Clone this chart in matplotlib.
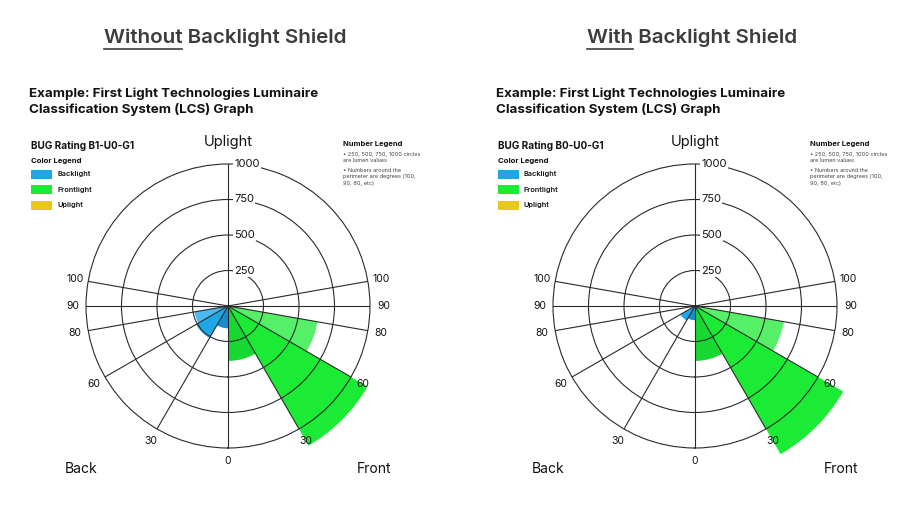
import numpy as np
import matplotlib.pyplot as plt
from matplotlib.patches import Rectangle

plt.rcParams['font.family'] = ['Inter', 'DejaVu Sans']

# BUG zones: degrees from nadir
zone_names = ['L', 'M', 'H']
zone_lo = [0, 30, 60]
zone_hi = [30, 60, 80]

# lumens per zone
without_back = [157, 260, 240]
without_front = [387, 1135, 640]
with_back = [100, 118, 0]
with_front = [387, 1205, 635]

back_colors = ['#1a8bcc', '#1ea7e6', '#4cb9ef']
front_colors = ['#17d731', '#1ceb36', '#56ef68']

rings = [250, 500, 750, 1000]
spokes = [0, 30, 60, 80, 90, 100]
bug_ratings = ['BUG Rating B1-U0-G1', 'BUG Rating B0-U0-G1']
headers = [('Without', ' Backlight Shield'), ('With', ' Backlight Shield')]
legend_names = ['Backlight', 'Frontlight', 'Uplight']
legend_colors = ['#1ea7e6', '#1ceb36', '#e8c81c']

W, H = 917, 531
fig = plt.figure(figsize=(W / 100, H / 100), dpi=100)
line_c = '#2a2a2a'
txt_c = '#111111'


def fx(x):
    return x / W


def fy(y):
    return 1 - y / H


def draw_panel(off, back, front, rating, header):
    cx, cy, R = 228 + off, 306, 142
    ax = fig.add_axes([fx(cx - R), fy(cy + R), 2 * R / W, 2 * R / H], projection='polar')
    ax.set_theta_zero_location('S')
    ax.set_theta_direction(1)

    # bars (back on the left = 360 - angle)
    for i in range(len(zone_names)):
        w = np.radians(zone_hi[i] - zone_lo[i])
        c = np.radians((zone_lo[i] + zone_hi[i]) / 2)
        ax.bar(c, front[i], width=w, color=front_colors[i], linewidth=0, clip_on=False, zorder=1)
        ax.bar(2 * np.pi - c, back[i], width=w, color=back_colors[i], linewidth=0, clip_on=False, zorder=1)

    ax.set_thetamin(0)
    ax.set_thetamax(360)
    ax.set_ylim(0, 1000)

    ticks = sorted(set([np.radians(a) for a in spokes] + [np.radians(360 - a) for a in spokes[1:]] + [np.pi]))
    ax.set_xticks(ticks)
    ax.set_xticklabels([])
    ax.set_yticks(rings[:-1])
    ax.set_yticklabels([])
    ax.tick_params(length=0)
    ax.grid(True, color=line_c, linewidth=0.8)
    ax.spines['polar'].set_color(line_c)
    ax.spines['polar'].set_linewidth(0.8)
    for gl in ax.xaxis.get_gridlines() + ax.yaxis.get_gridlines():
        gl.set_zorder(2)

    # degree labels around the perimeter
    for a in spokes:
        for s in ([1, -1] if a else [1]):
            ax.text(np.radians(s * a) % (2 * np.pi), 1095, str(a), ha='center', va='center',
                    fontsize=7.5, color=txt_c, zorder=5)
    # lumen labels on the vertical line
    for r in rings:
        ax.annotate(str(r), xy=(np.pi, r), xytext=(4.5, 0), textcoords='offset points',
                    ha='left', va='center', fontsize=8, color=txt_c, zorder=5,
                    bbox=dict(fc='white', ec='none', pad=0.8))

    fig.text(fx(cx), fy(142), 'Uplight', ha='center', va='center', fontsize=10.5, color=txt_c)
    fig.text(fx(81 + off), fy(469), 'Back', ha='center', va='center', fontsize=10, color=txt_c)
    fig.text(fx(374 + off), fy(469), 'Front', ha='center', va='center', fontsize=10, color=txt_c)

    fig.text(fx(29 + off), fy(88), 'Example: First Light Technologies Luminaire\nClassification System (LCS) Graph',
             ha='left', va='top', fontsize=9.6, fontweight='bold', color=txt_c, linespacing=1.25)

    fig.text(fx(31 + off), fy(146), rating, ha='left', va='center', fontsize=7.2,
             fontweight='bold', color=txt_c)
    fig.text(fx(31 + off), fy(161), 'Color Legend', ha='left', va='center', fontsize=5.6,
             fontweight='bold', color=txt_c)
    for k, (nm, col) in enumerate(zip(legend_names, legend_colors)):
        yc = 174 + k * 15.5
        fig.patches.append(Rectangle((fx(31 + off), fy(yc + 4.5)), 21 / W, 9 / H,
                                     transform=fig.transFigure, color=col, linewidth=0))
        fig.text(fx(57 + off), fy(yc), nm, ha='left', va='center', fontsize=5.3,
                 fontweight='semibold', color=txt_c)

    fig.text(fx(343 + off), fy(144), 'Number Legend', ha='left', va='center', fontsize=5.5,
             fontweight='bold', color=txt_c)
    fig.text(fx(343 + off), fy(152), '• 250, 500, 750, 1000 circles\nare lumen values',
             ha='left', va='top', fontsize=4.0, color='#444444', linespacing=1.35)
    fig.text(fx(343 + off), fy(168), '• Numbers around the\nperimeter are degrees (100,\n90, 80, etc)',
             ha='left', va='top', fontsize=4.0, color='#444444', linespacing=1.35)

    # header with underlined first word
    r = fig.canvas.get_renderer()
    hc = 225 + off
    first, rest = header
    t1 = fig.text(0, 0, first, fontsize=14.8, fontweight='semibold', color='#3c3c3c')
    t2 = fig.text(0, 0, first + rest, fontsize=14.8, fontweight='semibold', color='#3c3c3c')
    w1 = t1.get_window_extent(r).width
    w2 = t2.get_window_extent(r).width
    x0 = hc - w2 / 2
    t2.set_position((fx(x0), fy(38)))
    t2.set_va('center')
    t1.remove()
    fig.add_artist(plt.Line2D([fx(x0), fx(x0 + w1)], [fy(48.5), fy(48.5)],
                              transform=fig.transFigure, color='#3c3c3c', linewidth=1.2))


draw_panel(0, without_back, without_front, bug_ratings[0], headers[0])
draw_panel(467, with_back, with_front, bug_ratings[1], headers[1])

fig.savefig('out.png', dpi=100, facecolor='white')
